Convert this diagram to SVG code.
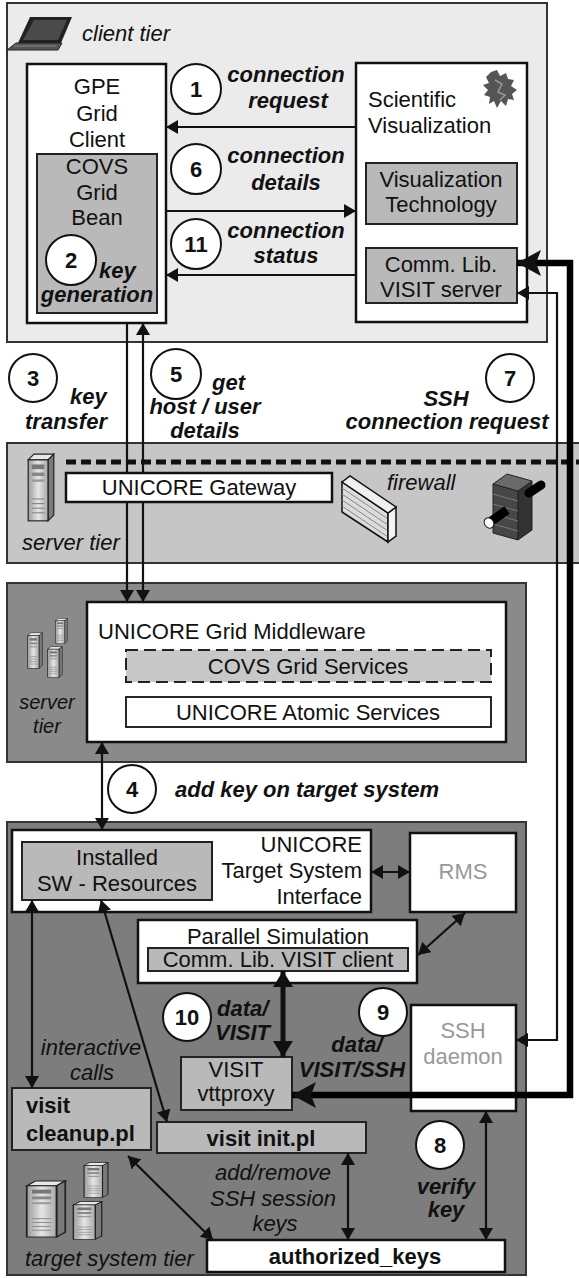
<svg xmlns="http://www.w3.org/2000/svg" xmlns:xlink="http://www.w3.org/1999/xlink" width="579" height="1278" viewBox="0 0 579 1278">
  <style>
    text { font-family: "Liberation Sans", Arial, sans-serif; font-size: 22px; fill: #111; }
    .c { text-anchor: middle; }
    .e { text-anchor: end; }
    .bi { font-weight: bold; font-style: italic; }
    .i { font-style: italic; }
    .b { font-weight: bold; }
    .g { fill: #999; }
    .n { font-weight: bold; text-anchor: middle; }
    .sm { font-size: 20px; }
    .panel { stroke: #333; stroke-width: 2; }
    .box { fill: #fff; stroke: #111; stroke-width: 2.5; }
    .gbox { fill: #b9b9b9; stroke: #222; stroke-width: 2; }
    .circ { fill: #fff; stroke: #111; stroke-width: 2; }
    .ln { fill: none; stroke: #111; stroke-width: 2.2; }
    .ln1 { marker-end: url(#ah); }
    .ln2 { marker-start: url(#ah); marker-end: url(#ah); }
  </style>
  <defs>
    <marker id="ah" viewBox="0 0 12 14" refX="12" refY="7" markerWidth="12" markerHeight="14" markerUnits="userSpaceOnUse" orient="auto-start-reverse">
      <path d="M0,0 L12,7 L0,14 z" fill="#111"/>
    </marker>
    <marker id="ahm" viewBox="0 0 16 20" refX="16" refY="10" markerWidth="16" markerHeight="20" markerUnits="userSpaceOnUse" orient="auto-start-reverse">
      <path d="M0,0 L16,10 L0,20 z" fill="#111"/>
    </marker>
    <marker id="ahb" viewBox="0 0 24 26" refX="24" refY="13" markerWidth="24" markerHeight="26" markerUnits="userSpaceOnUse" orient="auto-start-reverse">
      <path d="M0,0 L24,13 L0,26 L5,13 z" fill="#111"/>
    </marker>
    <linearGradient id="twr" x1="0" y1="0" x2="1" y2="0">
      <stop offset="0" stop-color="#9a9a9a"/>
      <stop offset="0.5" stop-color="#e6e6e6"/>
      <stop offset="1" stop-color="#a8a8a8"/>
    </linearGradient>
    <!-- computer tower -->
    <symbol id="tower" viewBox="0 0 24 60" preserveAspectRatio="none">
      <polygon points="1,6 6,1 23,1 18,6" fill="#e8e8e8" stroke="#222" stroke-width="1"/>
      <polygon points="18,6 23,1 23,54 18,59" fill="#7a7a7a" stroke="#222" stroke-width="1"/>
      <rect x="1" y="6" width="17" height="53" fill="url(#twr)" stroke="#222" stroke-width="1"/>
      <rect x="4" y="10" width="11" height="4" fill="#777"/>
      <rect x="4" y="17" width="11" height="3" fill="#888"/>
      <rect x="4" y="23" width="11" height="2" fill="#999"/>
      <line x1="4" y1="40" x2="15" y2="40" stroke="#888" stroke-width="1"/>
      <line x1="4" y1="44" x2="15" y2="44" stroke="#888" stroke-width="1"/>
      <line x1="4" y1="48" x2="15" y2="48" stroke="#888" stroke-width="1"/>
      <line x1="4" y1="52" x2="15" y2="52" stroke="#888" stroke-width="1"/>
    </symbol>
  </defs>

  <!-- tier panels -->
  <g id="client-tier">
    <rect class="panel" x="7" y="3" width="540" height="339" fill="#ebebeb"/>
    <g id="laptop">
      <polygon points="30,17 72,17 61,43 18,43" fill="#222"/>
      <polygon points="34,20 67,20 58,40 23,40" fill="#4a4a4a"/>
      <polygon points="16,43 62,43 58,50 7,50" fill="#555" stroke="#222" stroke-width="1"/>
      <line x1="14" y1="46" x2="56" y2="46" stroke="#888" stroke-width="1"/>
    </g>
    <text class="i" x="82" y="41">client tier</text>
  </g>

  <g id="firewall-tier">
    <rect class="panel" x="7" y="443" width="580" height="120" fill="#c6c6c6"/>
    <line x1="66" y1="462" x2="579" y2="462" stroke="#111" stroke-width="5" stroke-dasharray="10 5"/>
    <use href="#tower" x="27" y="453" width="28" height="69"/>
    <text class="i" x="22" y="550">server tier</text>
    <g id="wall">
      <polygon points="342,482 388,513 388,542 342,512" fill="#dcdcdc" stroke="#111" stroke-width="1.5"/>
      <path d="M342,488 L388,519 M342,494 L388,525 M342,500 L388,531 M342,506 L388,537" stroke="#888" stroke-width="1"/>
      <polygon points="388,513 396,507 396,536 388,542" fill="#f4f4f4" stroke="#111" stroke-width="1.5"/>
      <polygon points="342,482 350,476 396,507 388,513" fill="#f0f0f0" stroke="#111" stroke-width="1.5"/>
    </g>
    <text class="i" x="387" y="490">firewall</text>
    <g id="tunnel">
      <polygon points="493,484 518,491 518,540 493,533" fill="#474747" stroke="#222" stroke-width="1"/>
      <polygon points="518,491 532,481 532,530 518,540" fill="#333" stroke="#222" stroke-width="1"/>
      <polygon points="493,484 507,474 532,481 518,491" fill="#6a6a6a" stroke="#222" stroke-width="1"/>
      <path d="M493,494 L518,501 M493,504 L518,511 M493,514 L518,521 M493,524 L518,531" stroke="#777" stroke-width="1"/>
      <line x1="529" y1="493" x2="541" y2="485" stroke="#000" stroke-width="9" stroke-linecap="round"/>
      <line x1="490" y1="522" x2="507" y2="510" stroke="#000" stroke-width="9"/>
      <ellipse cx="489" cy="523" rx="4.5" ry="5.5" transform="rotate(-35 489 523)" fill="#fff" stroke="#222" stroke-width="1"/>
    </g>
  </g>

  <g id="server-tier">
    <rect class="panel" x="7" y="583" width="519" height="179" fill="#8a8a8a"/>
    <use href="#tower" x="27" y="632" width="16" height="37"/>
    <use href="#tower" x="55" y="618" width="13" height="26"/>
    <use href="#tower" x="47" y="646" width="16" height="32"/>
    <text class="i c sm" x="47" y="709">server</text>
    <text class="i c sm" x="47" y="733">tier</text>
  </g>

  <g id="target-tier">
    <rect class="panel" x="7" y="822" width="519" height="453" fill="#7d7d7d"/>
    <use href="#tower" x="25" y="1180" width="42" height="58"/>
    <use href="#tower" x="83" y="1162" width="26" height="36"/>
    <use href="#tower" x="72" y="1201" width="31" height="39"/>
    <text class="i" x="25" y="1266">target system tier</text>
  </g>

  <!-- client tier nodes -->
  <g id="gpe-client">
    <rect class="box" x="27" y="64" width="139" height="259"/>
    <text class="c" x="97" y="94">GPE</text>
    <text class="c" x="97" y="121">Grid</text>
    <text class="c" x="97" y="147">Client</text>
  </g>
  <g id="covs-grid-bean">
    <rect class="gbox" x="37" y="154" width="120" height="159" fill="#b3b3b3"/>
    <text class="c" x="97" y="174">COVS</text>
    <text class="c" x="97" y="200">Grid</text>
    <text class="c" x="97" y="225">Bean</text>
    <text class="bi" x="99" y="278">key</text>
    <text class="bi c" x="97" y="302">generation</text>
  </g>
  <g id="sci-vis">
    <rect class="box" x="356" y="63" width="171" height="259"/>
    <text x="368" y="107">Scientific</text>
    <text x="368" y="133">Visualization</text>
    <path d="M491,72 L497,70 L500,76 L506,73 L508,79 L514,80 L511,86 L517,90 L512,94 L514,100 L508,99 L506,106 L501,101 L497,108 L494,101 L489,104 L490,97 L484,95 L488,90 L483,85 L489,83 L486,77 Z" fill="#555"/>
    <path d="M495,80 L502,84 L498,92 L505,95 L500,100" fill="none" stroke="#999" stroke-width="1.5"/>
  </g>
  <g id="vis-tech">
    <rect class="gbox" x="366" y="163" width="151" height="61"/>
    <text class="c" x="441" y="187">Visualization</text>
    <text class="c" x="441" y="212">Technology</text>
  </g>
  <g id="visit-server">
    <rect class="gbox" x="366" y="248" width="151" height="55"/>
    <text class="c" x="441" y="272">Comm. Lib.</text>
    <text class="c" x="441" y="297">VISIT server</text>
  </g>

  <!-- server tier nodes -->
  <g id="grid-middleware">
    <rect class="box" x="87" y="602" width="419" height="140"/>
    <text x="98" y="639">UNICORE Grid Middleware</text>
  </g>
  <g id="covs-grid-services">
    <rect x="126" y="650" width="365" height="32" fill="#c8c8c8" stroke="#222" stroke-width="2" stroke-dasharray="12 6"/>
    <text class="c" x="308" y="674">COVS Grid Services</text>
  </g>
  <g id="atomic-services">
    <rect x="126" y="697" width="365" height="30" fill="#fff" stroke="#111" stroke-width="1.8"/>
    <text class="c" x="308" y="720">UNICORE Atomic Services</text>
  </g>

  <!-- target system nodes -->
  <g id="tsi">
    <rect class="box" x="12" y="830" width="359" height="82"/>
    <text class="e" x="362" y="852">UNICORE</text>
    <text class="e" x="362" y="878">Target System</text>
    <text class="e" x="362" y="904">Interface</text>
  </g>
  <g id="installed-sw">
    <rect class="gbox" x="22" y="842" width="190" height="58"/>
    <text class="c" x="117" y="865">Installed</text>
    <text class="c" x="117" y="891">SW - Resources</text>
  </g>
  <g id="rms">
    <rect class="box" x="410" y="833" width="106" height="79"/>
    <text class="c g" x="463" y="879">RMS</text>
  </g>
  <g id="parallel-sim">
    <rect class="box" x="138" y="920" width="279" height="63"/>
    <text class="c" x="278" y="944">Parallel Simulation</text>
  </g>
  <g id="visit-client">
    <rect class="gbox" x="148" y="948" width="260" height="23"/>
    <text class="c" x="278" y="967">Comm. Lib. VISIT client</text>
  </g>
  <g id="vttproxy">
    <rect class="gbox" x="181" y="1057" width="111" height="53"/>
    <text class="c" x="236" y="1077">VISIT</text>
    <text class="c" x="236" y="1101">vttproxy</text>
  </g>
  <g id="ssh-daemon">
    <rect class="box" x="411" y="1005" width="105" height="106"/>
    <text class="c g" x="463" y="1038">SSH</text>
    <text class="c g" x="463" y="1064">daemon</text>
  </g>
  <g id="visit-cleanup">
    <rect class="gbox" x="12" y="1088" width="139" height="62"/>
    <text class="b" x="26" y="1113">visit</text>
    <text class="b" x="26" y="1141">cleanup.pl</text>
  </g>
  <g id="visit-init">
    <rect class="gbox" x="157" y="1122" width="209" height="31"/>
    <text class="b c" x="261" y="1146">visit init.pl</text>
  </g>
  <g id="authorized-keys">
    <rect class="box" x="207" y="1240" width="298" height="32"/>
    <text class="b c" x="355" y="1264">authorized_keys</text>
  </g>

  <!-- connectors -->
  <g id="connectors">
    <line class="ln ln1" x1="356" y1="127" x2="166" y2="127"/>
    <line class="ln ln1" x1="166" y1="211" x2="356" y2="211"/>
    <line class="ln ln1" x1="356" y1="275" x2="166" y2="275"/>
    <line class="ln ln1" x1="127" y1="323" x2="127" y2="602"/>
    <line class="ln ln2" x1="143" y1="323" x2="143" y2="602"/>
    <line class="ln ln2" x1="102" y1="742" x2="102" y2="830"/>
    <line class="ln ln2" x1="371" y1="872" x2="410" y2="872"/>
    <line class="ln ln2" x1="465" y1="913" x2="418" y2="955"/>
    <line class="ln ln2" x1="32" y1="900" x2="32" y2="1088"/>
    <line class="ln ln2" x1="101" y1="900" x2="167" y2="1122"/>
    <line class="ln ln2" x1="128" y1="1156" x2="213" y2="1240"/>
    <line class="ln ln2" x1="348" y1="1153" x2="348" y2="1240"/>
    <line class="ln ln2" x1="486" y1="1111" x2="486" y2="1240"/>
    <line x1="283" y1="971" x2="283" y2="1057" stroke="#111" stroke-width="5" marker-start="url(#ahm)" marker-end="url(#ahm)"/>
    <path class="ln ln2" d="M517,293 H557 V1040 H516"/>
    <path d="M517,263 H570 V1095 H292" fill="none" stroke="#000" stroke-width="6.5" marker-start="url(#ahb)" marker-end="url(#ahb)"/>
  </g>

  <!-- gateway sits on top of the lines passing through it -->
  <g id="gateway">
    <rect class="box" x="66" y="473" width="266" height="29"/>
    <text class="c" x="199" y="495">UNICORE Gateway</text>
  </g>

  <!-- step labels -->
  <g id="steps">
    <circle class="circ" cx="196" cy="89" r="25"/><text class="n" x="196" y="97">1</text>
    <text class="bi c" x="286" y="82">connection</text>
    <text class="bi c" x="288" y="108">request</text>

    <circle class="circ" cx="71" cy="260" r="25"/><text class="n" x="71" y="268">2</text>

    <circle class="circ" cx="196" cy="169" r="25"/><text class="n" x="196" y="177">6</text>
    <text class="bi c" x="286" y="163">connection</text>
    <text class="bi c" x="286" y="190">details</text>

    <circle class="circ" cx="196" cy="244" r="25"/><text class="n" x="196" y="252">11</text>
    <text class="bi c" x="286" y="238">connection</text>
    <text class="bi c" x="286" y="263">status</text>

    <circle class="circ" cx="33" cy="378" r="24"/><text class="n" x="33" y="386">3</text>
    <text class="bi" x="70" y="404">key</text>
    <text class="bi c" x="66" y="429">transfer</text>

    <circle class="circ" cx="176" cy="374" r="25"/><text class="n" x="176" y="382">5</text>
    <text class="bi" x="212" y="390">get</text>
    <text class="bi c" x="205" y="414">host / user</text>
    <text class="bi c" x="205" y="438">details</text>

    <text class="bi c" x="446" y="406">SSH</text>
    <circle class="circ" cx="510" cy="378" r="24"/><text class="n" x="510" y="386">7</text>
    <text class="bi c" x="447" y="429">connection request</text>

    <circle class="circ" cx="132" cy="789" r="24"/><text class="n" x="132" y="797">4</text>
    <text class="bi" x="175" y="797">add key on target system</text>

    <circle class="circ" cx="187" cy="1017" r="24"/><text class="n" x="187" y="1025">10</text>
    <text class="bi" x="217" y="1016">data/</text>
    <text class="bi" x="215" y="1040">VISIT</text>

    <circle class="circ" cx="383" cy="1012" r="24"/><text class="n" x="383" y="1020">9</text>
    <text class="bi c" x="357" y="1052">data/</text>
    <text class="bi c" x="352" y="1077">VISIT/SSH</text>

    <circle class="circ" cx="440" cy="1145" r="24"/><text class="n" x="440" y="1153">8</text>
    <text class="bi c" x="446" y="1194">verify</text>
    <text class="bi c" x="446" y="1217">key</text>

    <text class="i c" x="91" y="1055">interactive</text>
    <text class="i c" x="92" y="1080">calls</text>
    <text class="i c" x="273" y="1180">add/remove</text>
    <text class="i c" x="273" y="1206">SSH session</text>
    <text class="i c" x="275" y="1231">keys</text>
  </g>
</svg>
